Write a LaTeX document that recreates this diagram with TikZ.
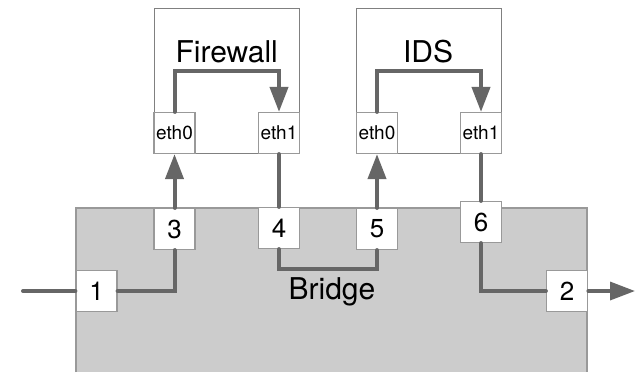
\documentclass[tikz,border=0pt]{standalone}
\usepackage{fontspec}
\setmainfont{TeX Gyre Heros}
\usetikzlibrary{arrows.meta,positioning}

\begin{document}
\begin{tikzpicture}[x=0.5pt,y=-0.5pt,
		wire/.style = {draw=black!60, line width=2pt, line cap=round},
		flow/.style = {wire, -{Triangle[length=12.5pt,width=9pt]}},
		port/.style = {draw=black!40, fill=white, line width=0.6pt, minimum size=20.5pt, inner sep=0pt, font=\fontsize{13}{13}\selectfont},
		eth/.style = {port, font=\fontsize{9.5}{9.5}\selectfont},
		host/.style = {draw=black!50, fill=white, line width=0.6pt, minimum width=72.5pt, minimum height=72.5pt, inner sep=0pt},
		title/.style = {font=\fontsize{15}{15}\selectfont}
	]
	\useasboundingbox (0,0) rectangle (636,372);

	% bridge, runs off the bottom edge
	\path[fill=black!20] (76,208) rectangle (587,372);
	\draw[black!40, line width=0.6pt] (76,372) -- (76,208) -- (587,208) -- (587,372);
	\node[title] (bridge) at (332,292) {Bridge};

	% the two hosts with their interfaces
	\node[host] (fw) at (226.7,80.8) {};
	\node[title] (fwname) at (226.7,52) {Firewall};
	\node[eth] (fw0) at (174.5,133) {eth0};
	\node[eth] (fw1) at (279,133) {eth1};

	\node[host] (ids) at (428.7,80.8) {};
	\node[title] (idsname) at (428,52) {IDS};
	\node[eth] (ids0) at (377,133) {eth0};
	\node[eth] (ids1) at (481,133) {eth1};

	% bridge ports
	\foreach \n/\x/\y in {1/96.5/291, 2/567/291, 3/174.5/229, 4/279/228, 5/377/229, 6/481/222}
		\node[port] (p\n) at (\x,\y) {\n};

	\coordinate (in) at (23,291);
	\coordinate (out) at (635,291);

	% traffic path
	\draw[wire] (in) -- (p1.west);
	\draw[wire] (p1.east) -| (p3.south);
	\draw[flow] (p3.north) -- (fw0.south);
	\draw[flow] (fw0.north) -- ++(0,-41) -| (fw1.north);
	\draw[wire] (fw1.south) -- (p4.north);
	\draw[wire] (p4.south) -- ++(0,20) -| (p5.south);
	\draw[flow] (p5.north) -- (ids0.south);
	\draw[flow] (ids0.north) -- ++(0,-41) -| (ids1.north);
	\draw[wire] (ids1.south) -- (p6.north);
	\draw[wire] (p6.south) |- (p2.west);
	\draw[flow, line width=1.7pt] (p2.east) -- (out);
\end{tikzpicture}
\end{document}
